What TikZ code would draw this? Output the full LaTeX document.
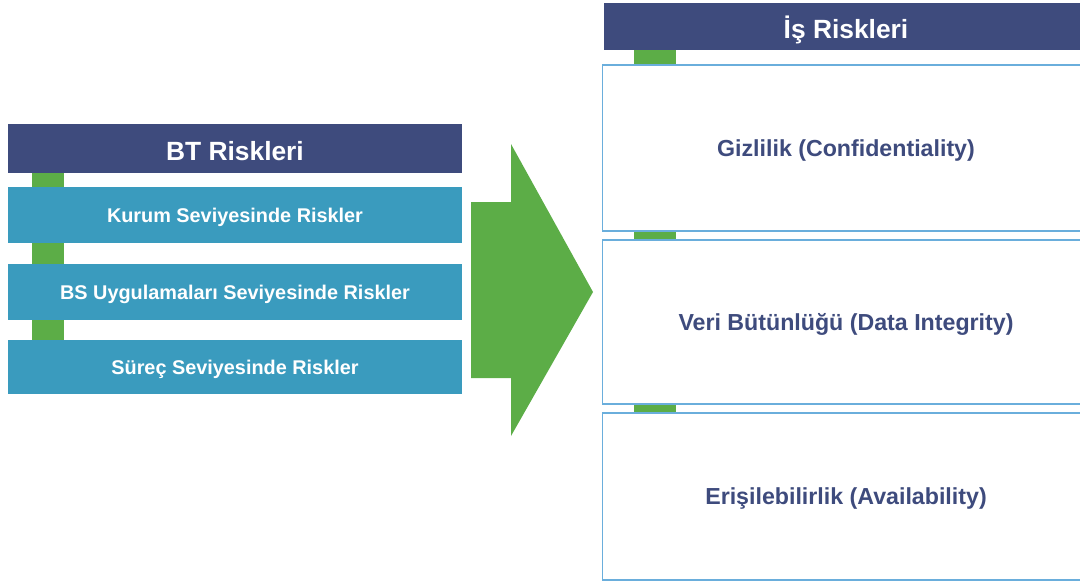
\documentclass[tikz,border=0pt]{standalone}
\usepackage{fontspec}
\setmainfont{Liberation Sans}
\usetikzlibrary{backgrounds}
\definecolor{btnavy}{HTML}{3E4B7D}
\definecolor{btteal}{HTML}{3A9BBE}
\definecolor{btgreen}{HTML}{5CAD47}
\definecolor{btline}{HTML}{6AAEDC}
\begin{document}
\begin{tikzpicture}[x=0.02cm,y=-0.02cm,
    hdr/.style={fill=btnavy,text=white,font=\fontsize{15}{18}\selectfont\bfseries,inner sep=0pt,text height=14pt,text depth=0pt},
    lvl/.style={fill=btteal,text=white,font=\fontsize{11.3}{13}\selectfont\bfseries,minimum width=9.08cm,minimum height=1.12cm,inner sep=0pt,text height=8.1pt,text depth=0pt},
    cia/.style={draw=btline,line width=0.6pt,fill=white,text=btnavy,font=\fontsize{13.2}{16}\selectfont\bfseries,minimum width=9.76cm,inner sep=0pt,text height=9.5pt,text depth=0pt},
    stub/.style={btgreen,line width=0.64cm},
    widestub/.style={btgreen,line width=0.84cm}]
                \useasboundingbox (0,0) rectangle (1080,582);
                \clip (0,0) rectangle (1080,582);

                \node[hdr,minimum width=9.08cm,minimum height=0.98cm] (bt) at (235,148.5) {BT Riskleri};
                \node[lvl] (kurum) at (235,215) {Kurum Seviyesinde Riskler};
                \node[lvl] (bs) at (235,292) {BS Uygulamaları Seviyesinde Riskler};
                \node[lvl,minimum height=1.08cm] (surec) at (235,367) {Süreç Seviyesinde Riskler};

                \node[hdr,minimum width=9.68cm,minimum height=0.94cm] (is) at (846,26.5) {İş Riskleri};
                \node[cia,minimum height=3.32cm] (gizlilik) at (846,148) {Gizlilik (Confidentiality)};
                \node[cia,minimum height=3.28cm] (butunluk) at (846,322) {Veri Bütünlüğü (Data Integrity)};
                \node[cia,minimum height=3.34cm] (erisim) at (846,496.5) {Erişilebilirlik (Availability)};

                \coordinate (lx) at (48,0);
                \coordinate (rx) at (655,0);
                \begin{scope}[on background layer]
                \draw[stub] (bt.south -| lx) -- (kurum.north -| lx);
                \draw[stub] (kurum.south -| lx) -- (bs.north -| lx);
                \draw[stub] (bs.south -| lx) -- (surec.north -| lx);
                \draw[widestub] (is.south -| rx) -- (gizlilik.north -| rx);
                \draw[widestub] (gizlilik.south -| rx) -- (butunluk.north -| rx);
                \draw[widestub] (butunluk.south -| rx) -- (erisim.north -| rx);
                \end{scope}

                % \draw[-latex, btgreen, line width=3cm] (bt.east) -- (gizlilik.west);
                \fill[btgreen] (471,202) -- (511,202) -- (511,144) -- (593,292) -- (511,436) -- (511,378) -- (471,378) -- cycle;
\end{tikzpicture}
\end{document}
